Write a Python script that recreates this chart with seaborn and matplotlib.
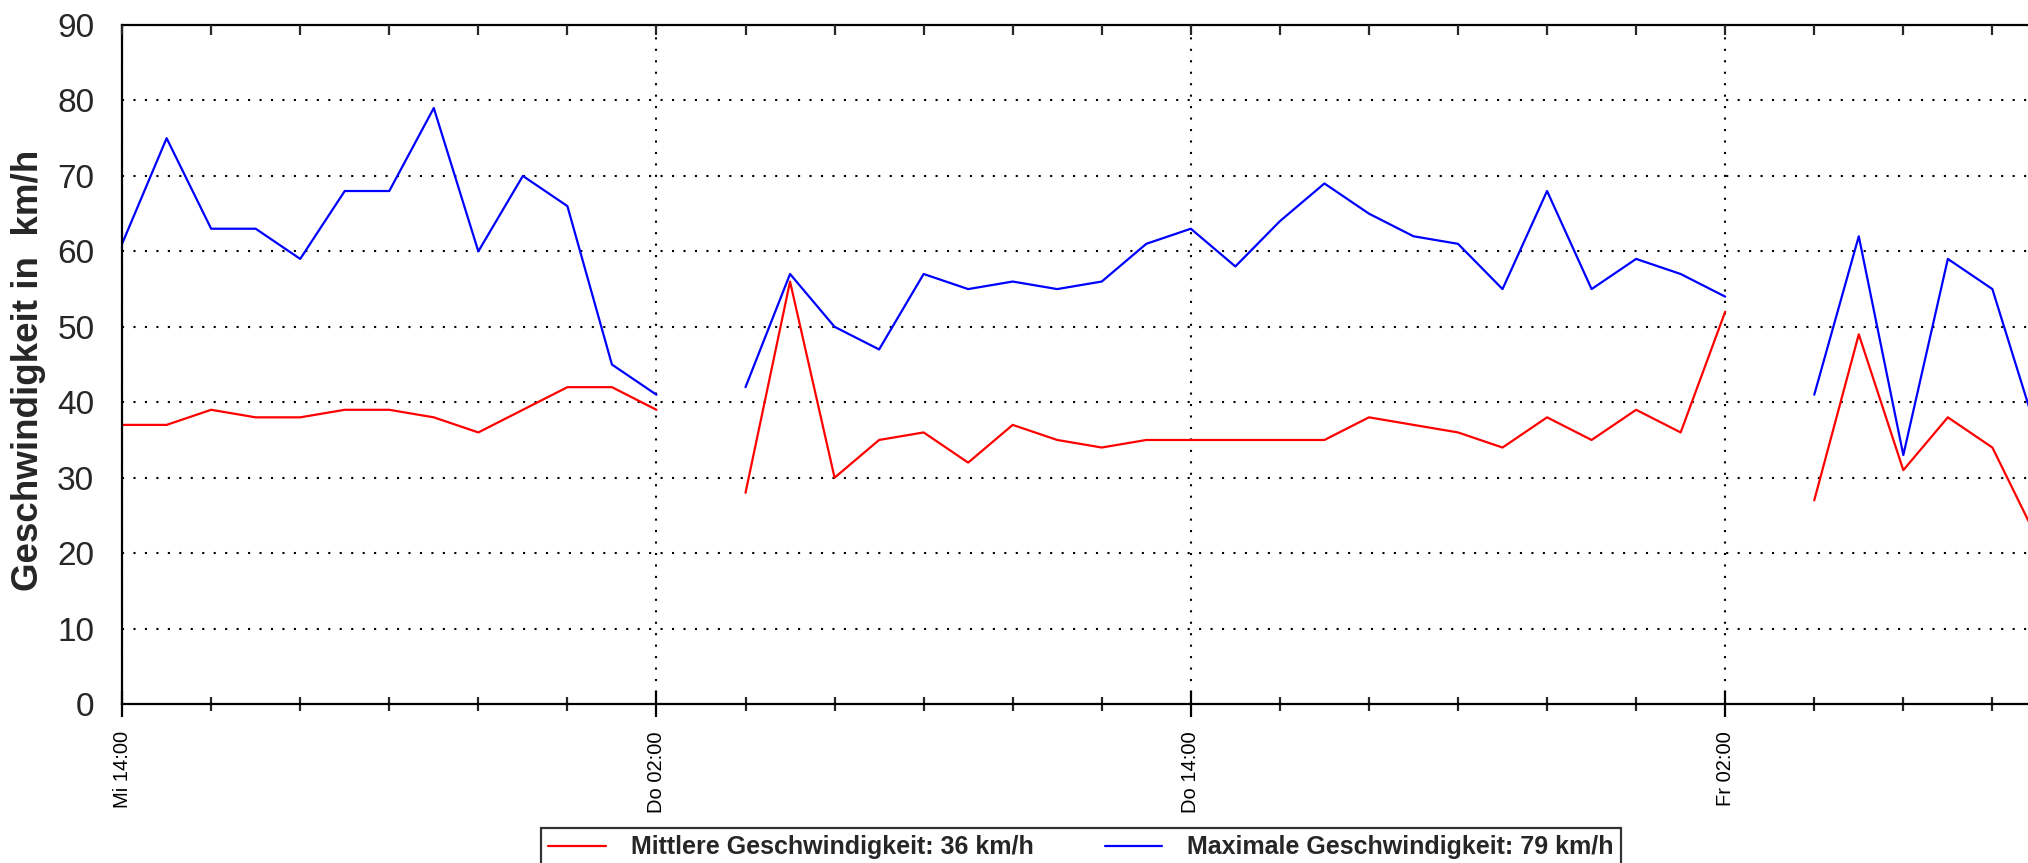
import numpy as np
import pandas as pd
import matplotlib
matplotlib.use("Agg")
import matplotlib.pyplot as plt
import matplotlib.dates as mdates
from matplotlib.ticker import MultipleLocator, FuncFormatter
import seaborn as sns

# ---- data (hourly values, NaN = no data) ----
start = "2024-01-03 14:00"   # a Wednesday
mittel = [37, 37, 39, 38, 38, 39, 39, 38, 36, 39, 42, 42, 39,
          np.nan,
          28, 56, 30, 35, 36, 32, 37, 35, 34, 35, 35, 35, 35, 35, 38, 37, 36, 34, 38, 35, 39, 36, 52,
          np.nan,
          27, 49, 31, 38, 34, 22]
maximal = [61, 75, 63, 63, 59, 68, 68, 79, 60, 70, 66, 45, 41,
           np.nan,
           42, 57, 50, 47, 57, 55, 56, 55, 56, 61, 63, 58, 64, 69, 65, 62, 61, 55, 68, 55, 59, 57, 54,
           np.nan,
           41, 62, 33, 59, 55, 36]
label_mittel = "Mittlere Geschwindigkeit: 36 km/h"
label_max = "Maximale Geschwindigkeit: 79 km/h"
x_end = "2024-01-05 08:48"
weekdays = ["Mo", "Di", "Mi", "Do", "Fr", "Sa", "So"]

times = pd.date_range(start, periods=len(mittel), freq="h")

# split each series into segments at the gaps
frames = []
for name, vals in [(label_mittel, mittel), (label_max, maximal)]:
    s = pd.Series(vals, index=times)
    seg = s.isna().cumsum()
    d = pd.DataFrame({"zeit": times, "wert": s.values, "serie": name, "seg": seg.values})
    frames.append(d.dropna())
df = pd.concat(frames, ignore_index=True)

sns.set_style("white")
plt.rcParams["font.family"] = ["Liberation Sans", "DejaVu Sans"]

fig = plt.figure(figsize=(20.28, 8.63), dpi=100)
ax = fig.add_axes([0.0602, 0.1842, 0.9398, 0.7868])

sns.lineplot(data=df, x="zeit", y="wert", hue="serie", units="seg", estimator=None,
             palette={label_mittel: "#ff0000", label_max: "#0000ff"},
             linewidth=1.6, ax=ax, legend=False)

ax.set_xlim(pd.Timestamp(start), pd.Timestamp(x_end))
ax.set_ylim(0, 90)

ax.xaxis.set_major_locator(mdates.HourLocator(byhour=[2, 14]))
ax.xaxis.set_minor_locator(mdates.HourLocator(byhour=range(0, 24, 2)))
ax.xaxis.set_major_formatter(FuncFormatter(
    lambda v, p: weekdays[mdates.num2date(v).weekday()] + mdates.num2date(v).strftime(" %H:%M")))
ax.yaxis.set_major_locator(MultipleLocator(10))
ax.yaxis.set_minor_locator(MultipleLocator(2))

for sp in ax.spines.values():
    sp.set_color("black")
    sp.set_linewidth(1.6)
ax.spines["right"].set_visible(False)

ax.tick_params(axis="x", which="major", direction="inout", length=19, width=1.6,
               labelsize=14.5, labelrotation=90, pad=10, colors="black")
ax.tick_params(axis="x", which="minor", direction="inout", length=10, width=1.6)
ax.tick_params(axis="y", which="major", direction="inout", length=20, width=1.6,
               labelsize=24, pad=10, right=False)
ax.tick_params(axis="y", which="minor", direction="inout", length=11, width=1.6, right=False)

# ticks on the top edge point inwards only
top = ax.twiny()
top.set_xlim(ax.get_xlim())
top.xaxis.set_major_locator(mdates.HourLocator(byhour=range(0, 24, 2)))
top.tick_params(axis="x", direction="in", length=7, width=1.6, labeltop=False)
top.spines[:].set_visible(False)

ax.grid(True, which="major", color="black", linestyle=(0, (1, 4.5)), linewidth=1.5)

ax.set_xlabel("")
ax.set_ylabel("Geschwindigkeit in  km/h", fontsize=26.5, fontweight="bold")
ax.yaxis.set_label_coords(-0.040, 0.492)

handles = [plt.Line2D([], [], color="#ff0000", linewidth=1.6),
           plt.Line2D([], [], color="#0000ff", linewidth=1.6)]
leg = fig.legend(handles, [label_mittel, label_max], loc="lower center",
                 bbox_to_anchor=(0.533, -0.019), ncol=2, frameon=True, fancybox=False,
                 edgecolor="black", handlelength=2.3, handletextpad=1.0, columnspacing=2.85,
                 borderpad=0.3, prop={"family": ["Liberation Sans Narrow", "Liberation Sans"],
                                      "weight": "bold", "size": 18})
leg.get_frame().set_linewidth(1.6)

fig.savefig("out.png", dpi=100)
